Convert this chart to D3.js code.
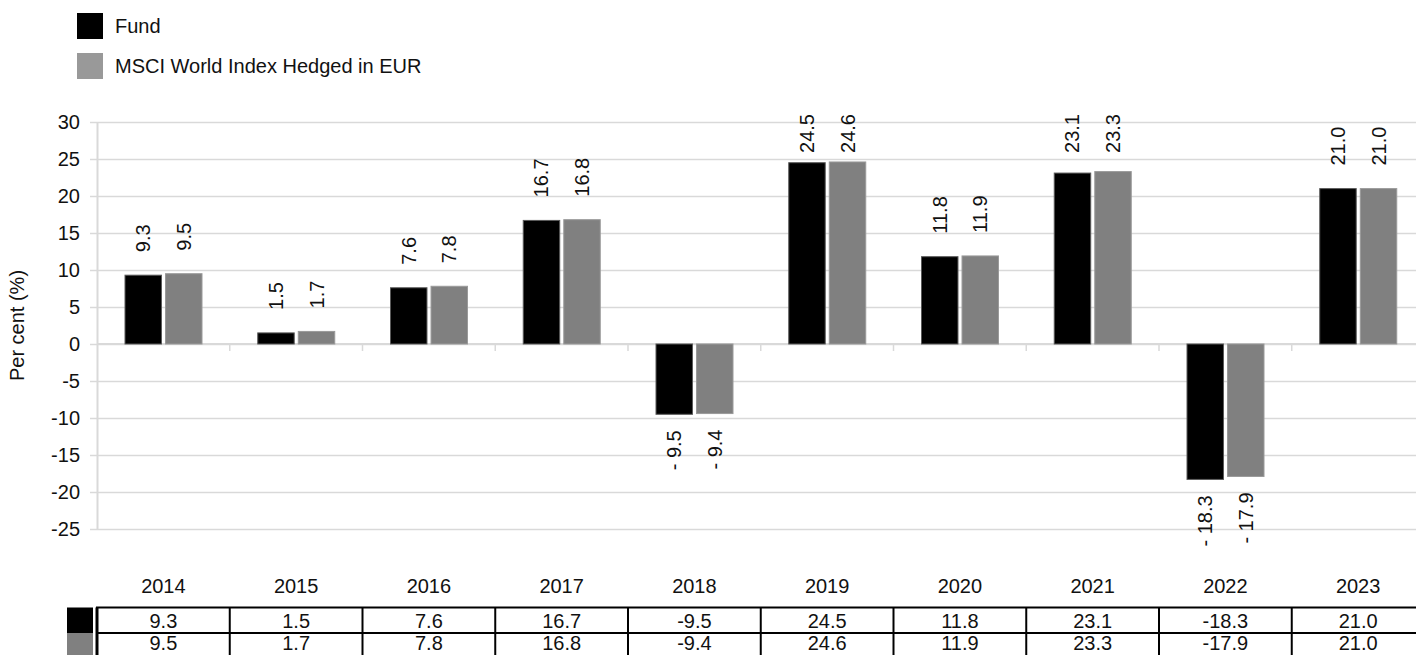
<!DOCTYPE html>
<html>
<head>
<meta charset="utf-8">
<title>Fund vs MSCI World Index Hedged in EUR</title>
<script src="https://cdn.jsdelivr.net/npm/d3@7"></script>
<style>
  html, body { margin: 0; padding: 0; background: #fff; }
  svg { display: block; font-family: "Liberation Sans", Arial, Helvetica, sans-serif; }
</style>
</head>
<body>
<svg id="chart" width="1416" height="655"></svg>
<script>
// Calendar-year performance, per cent
const years = ["2014", "2015", "2016", "2017", "2018", "2019", "2020", "2021", "2022", "2023"];
const fundValues = [9.3, 1.5, 7.6, 16.7, -9.5, 24.5, 11.8, 23.1, -18.3, 21.0];
const indexValues = [9.5, 1.7, 7.8, 16.8, -9.4, 24.6, 11.9, 23.3, -17.9, 21.0];
const seriesNames = ["Fund", "MSCI World Index Hedged in EUR"];
const yTickValues = [-25, -20, -15, -10, -5, 0, 5, 10, 15, 20, 25, 30];
const yTitle = "Per cent (%)";

const series = [
  { name: seriesNames[0], values: fundValues, fill: "#000000", stroke: "#5a5a5a", legend: "#000000", table: "#000000" },
  { name: seriesNames[1], values: indexValues, fill: "#808080", stroke: "#9a9a9a", legend: "#999999", table: "#808080" }
];

const svg = d3.select("#chart");
const FONT = 20;
const gridColor = "#d9d9d9";

const plotLeft = 97;
const step = 132.75;
const x = d3.scaleBand().domain(years).range([plotLeft, plotLeft + step * years.length]).padding(0);
const x1 = d3.scaleBand().domain(d3.range(series.length)).range([28, 105]).paddingInner(0.1).paddingOuter(0);
const y = d3.scaleLinear().domain([-25, 30]).range([529, 122]);

// Plain hyphen-minus for negative numbers
const fmt1 = v => (v < 0 ? "-" : "") + Math.abs(v).toFixed(1);
const fmtInt = v => String(v);

// Legend
const legend = svg.append("g").attr("class", "legend");
series.forEach((s, i) => {
  const cy = 26 + i * 40;
  legend.append("rect").attr("x", 77).attr("y", cy - 13).attr("width", 26).attr("height", 26).attr("fill", s.legend);
  legend.append("text").attr("x", 115).attr("y", cy).attr("dy", "0.35em")
    .attr("font-size", FONT).attr("fill", "#111").text(s.name);
});

// Horizontal gridlines
const grid = svg.append("g").attr("class", "grid")
  .attr("transform", `translate(${plotLeft},0)`)
  .call(d3.axisLeft(y).tickValues(yTickValues).tickSize(-(1416 - plotLeft)).tickFormat(""));
grid.select(".domain").remove();
grid.selectAll(".tick line").attr("stroke", gridColor).attr("stroke-width", 1.5);

// Y axis with labels
const yAxis = svg.append("g").attr("class", "y-axis")
  .attr("transform", `translate(${plotLeft},0)`)
  .call(d3.axisLeft(y).tickValues(yTickValues).tickFormat(fmtInt).tickSize(7).tickPadding(10).tickSizeOuter(0));
yAxis.select(".domain").attr("stroke", gridColor).attr("stroke-width", 2);
yAxis.selectAll(".tick line").attr("stroke", gridColor).attr("stroke-width", 1.5);
yAxis.selectAll(".tick text").attr("font-size", FONT).attr("fill", "#111")
  .attr("font-family", "Liberation Sans, Arial, sans-serif");

// Y axis title
svg.append("text")
  .attr("transform", `translate(24,${(y(30) + y(-25)) / 2}) rotate(-90)`)
  .attr("text-anchor", "middle").attr("font-size", FONT).attr("fill", "#111")
  .text(yTitle);

// Zero line with category separators
const zeroAxis = svg.append("g").attr("class", "x-axis");
zeroAxis.append("line")
  .attr("x1", plotLeft).attr("x2", 1416).attr("y1", y(0)).attr("y2", y(0))
  .attr("stroke", gridColor).attr("stroke-width", 2);
zeroAxis.selectAll("line.sep").data(years.slice(1)).join("line").attr("class", "sep")
  .attr("x1", d => x(d)).attr("x2", d => x(d))
  .attr("y1", y(0)).attr("y2", y(0) + 7)
  .attr("stroke", gridColor).attr("stroke-width", 1.5);

// Bars
const groups = svg.append("g").attr("class", "bars").selectAll("g").data(years).join("g")
  .attr("transform", d => `translate(${x(d)},0)`);

groups.selectAll("rect").data((d, i) => series.map((s, k) => ({ k, v: s.values[i], s })))
  .join("rect")
  .attr("x", d => x1(d.k))
  .attr("width", x1.bandwidth())
  .attr("y", d => y(Math.max(0, d.v)))
  .attr("height", d => Math.abs(y(d.v) - y(0)))
  .attr("fill", d => d.s.fill)
  .attr("stroke", d => d.s.stroke)
  .attr("stroke-width", 1);

// Data labels, rotated
const labelText = v => v < 0 ? "- " + Math.abs(v).toFixed(1) : v.toFixed(1);
const labelTopLimit = 114;
groups.selectAll("text.value").data((d, i) => series.map((s, k) => ({ k, v: s.values[i] })))
  .join("text").attr("class", "value")
  .attr("font-size", FONT).attr("fill", "#111")
  .attr("dy", "0.35em")
  .text(d => labelText(d.v))
  .each(function (d) {
    const el = d3.select(this);
    const cx = x1(d.k) + x1.bandwidth() / 2;
    const len = this.getComputedTextLength();
    let pos;
    if (d.v >= 0) {
      pos = y(d.v) - 23;
      if (pos - len < labelTopLimit) pos = labelTopLimit + len;
      el.attr("text-anchor", "start");
    } else {
      pos = y(d.v) + 16;
      el.attr("text-anchor", "end");
    }
    el.attr("transform", `translate(${cx},${pos}) rotate(-90)`);
  });

// Category labels
svg.append("g").attr("class", "categories").selectAll("text").data(years).join("text")
  .attr("x", d => x(d) + x.bandwidth() / 2).attr("y", 593)
  .attr("text-anchor", "middle").attr("font-size", FONT).attr("fill", "#111")
  .text(d => d);

// Data table
const table = svg.append("g").attr("class", "table");
const rowTop = [607.5, 633, 659];
const rowTextY = [621, 643];
series.forEach((s, r) => {
  table.append("rect").attr("x", 67).attr("y", rowTop[r]).attr("width", 26)
    .attr("height", rowTop[r + 1] - rowTop[r]).attr("fill", s.table);
  table.selectAll(`text.row${r}`).data(years).join("text").attr("class", `row${r}`)
    .attr("x", d => x(d) + x.bandwidth() / 2)
    .attr("y", rowTextY[r])
    .attr("dy", "0.35em")
    .attr("text-anchor", "middle").attr("font-size", FONT).attr("fill", "#111")
    .text((d, i) => fmt1(s.values[i]));
});
rowTop.forEach(t => {
  table.append("line").attr("x1", plotLeft - 1).attr("x2", 1416).attr("y1", t).attr("y2", t)
    .attr("stroke", "#000").attr("stroke-width", 2);
});
table.selectAll("line.col").data(years).join("line").attr("class", "col")
  .attr("x1", d => x(d)).attr("x2", d => x(d))
  .attr("y1", rowTop[0]).attr("y2", rowTop[2])
  .attr("stroke", "#000").attr("stroke-width", d => d === years[0] ? 3 : 2);
</script>
</body>
</html>
